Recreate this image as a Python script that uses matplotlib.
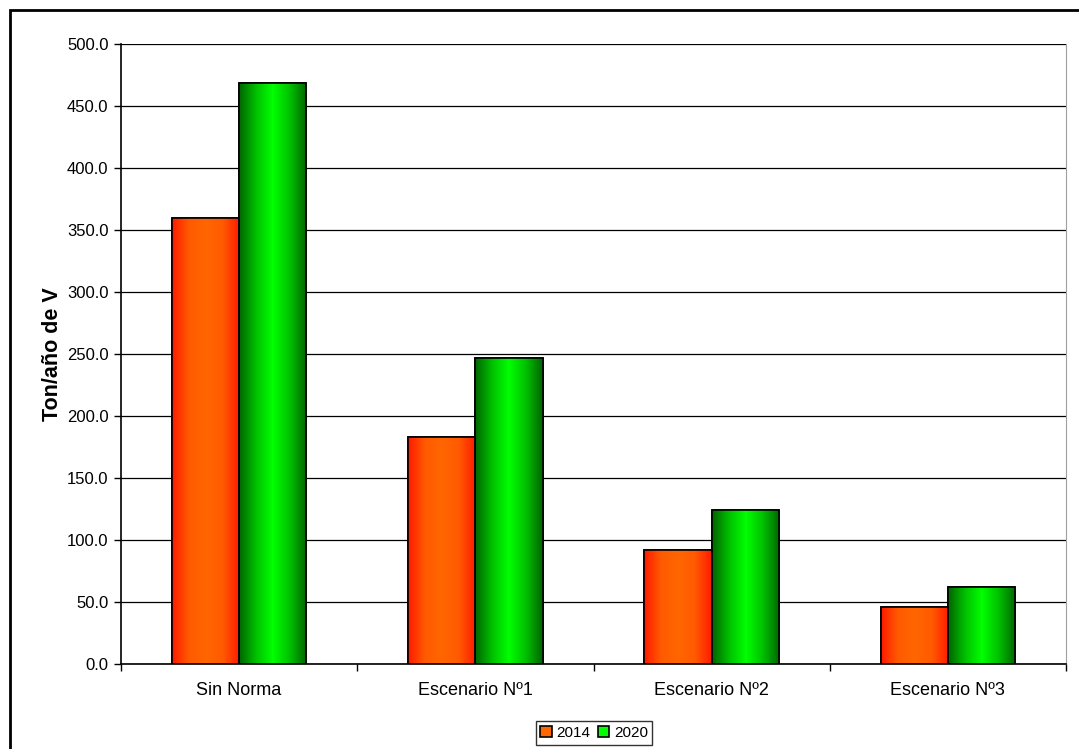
import numpy as np
import matplotlib.pyplot as plt
from matplotlib.colors import LinearSegmentedColormap
from matplotlib.patches import Rectangle

plt.rcParams['font.family'] = ['Liberation Sans', 'DejaVu Sans']

categories = ['Sin Norma', 'Escenario Nº1', 'Escenario Nº2', 'Escenario Nº3']
years = ['2014', '2020']
v2014 = [359.5, 183.0, 92.0, 46.0]
v2020 = [468.5, 246.5, 124.5, 62.0]

cmap_red = LinearSegmentedColormap.from_list('r', ['#ff1a00', '#ff5a00', '#ff6600', '#ff5a00', '#ff1a00'])
cmap_green = LinearSegmentedColormap.from_list('g', ['#006400', '#00c000', '#00ff00', '#00c000', '#006400'])

fig = plt.figure(figsize=(10.79, 7.49), dpi=100)
ax = fig.add_axes([121 / 1079, 1 - 664 / 749, 945 / 1079, 620 / 749])

x = np.arange(len(categories))
w = 0.285
bars1 = ax.bar(x - w / 2, v2014, w, color='#ff6600', edgecolor='black', linewidth=1.2, zorder=3, label=years[0])
bars2 = ax.bar(x + w / 2, v2020, w, color='#00ff00', edgecolor='black', linewidth=1.2, zorder=3, label=years[1])

# horizontal gradient fill inside each bar
grad = np.linspace(0, 1, 256).reshape(1, -1)
for bars, cm in [(bars1, cmap_red), (bars2, cmap_green)]:
    for b in bars:
        x0, y0 = b.get_x(), b.get_y()
        im = ax.imshow(grad, cmap=cm, aspect='auto', zorder=3.5,
                       extent=[x0, x0 + b.get_width(), y0, y0 + b.get_height()])
        im.set_clip_path(b)
        edge = Rectangle((x0, y0), b.get_width(), b.get_height(), fill=False,
                         edgecolor='black', linewidth=1.2, zorder=4)
        ax.add_patch(edge)

ax.set_xlim(-0.5, len(categories) - 0.5)
ax.set_ylim(0, 500)
ax.set_yticks(np.arange(0, 501, 50))
ax.set_yticklabels([f'{t:.1f}' for t in np.arange(0, 501, 50)], fontsize=12)
ax.set_xticks(x)
ax.set_xticklabels(categories, fontsize=13)
ax.set_xticks(np.arange(-0.5, len(categories), 1), minor=True)
ax.tick_params(axis='x', which='major', length=0, pad=13)
ax.tick_params(axis='x', which='minor', length=5, width=1)
ax.tick_params(axis='y', length=5, width=1, pad=4)
ax.yaxis.grid(True, color='black', linewidth=0.9, zorder=0)
ax.set_axisbelow(True)

ax.spines['top'].set_visible(False)
ax.spines['right'].set_color('#a0a0a0')
ax.spines['left'].set_linewidth(1.2)
ax.spines['bottom'].set_linewidth(1.2)

ax.set_ylabel('Ton/año de V', fontsize=15.5, fontweight='bold', labelpad=3)

leg = fig.legend(handles=[bars1, bars2], labels=years, loc='center',
                 bbox_to_anchor=(594 / 1079, 1 - 733 / 749), ncol=2, fontsize=11,
                 frameon=True, fancybox=False, edgecolor='black',
                 handlelength=0.75, handleheight=0.75, handletextpad=0.3,
                 columnspacing=0.5, borderpad=0.3, borderaxespad=0)
leg.get_frame().set_linewidth(1)

fig.patches.append(Rectangle((10 / 1079, -0.1), 1.2, 1.1 - 10 / 749,
                             transform=fig.transFigure, fill=False,
                             edgecolor='black', linewidth=2))

fig.savefig('out.png', dpi=100)
